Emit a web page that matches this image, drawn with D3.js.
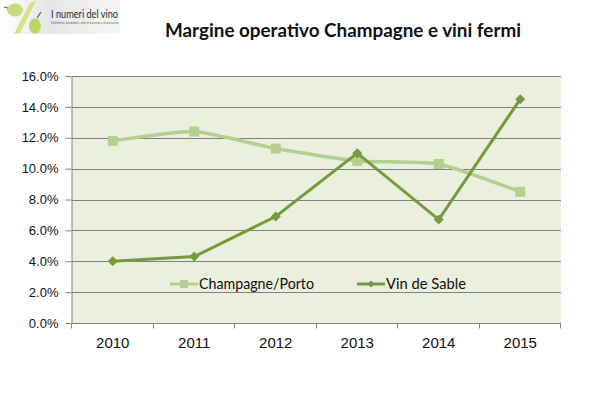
<!DOCTYPE html>
<html>
<head>
<meta charset="utf-8">
<script src="https://cdn.jsdelivr.net/npm/d3@7"></script>
<style>
	body { margin: 0; background: #fff; }
	svg { display: block; }
</style>
</head>
<body>
<div id="chart"></div>
<script>
// chart data
var years = ["2010", "2011", "2012", "2013", "2014", "2015"];
var champagne = [11.8, 12.4, 11.3, 10.5, 10.3, 8.5];
var vinDeSable = [4.0, 4.3, 6.9, 11.0, 6.7, 14.5];
var seriesNames = ["Champagne/Porto", "Vin de Sable"];
var yTicks = [0, 2, 4, 6, 8, 10, 12, 14, 16];

var width = 599, height = 395;
var plot = {left: 72, right: 561, top: 76, bottom: 323};

var colLight = "#b5ce92";
var colDark = "#779a3e";
var narrowFont = "Lato, 'Open Sans', sans-serif";
var axisFont = "'Liberation Sans', Arial, sans-serif";

var svg = d3.select("#chart").append("svg")
	.attr("width", width)
	.attr("height", height);

////////////////////////////////////////
// logo in the top left corner

var defs = svg.append("defs");
var grad = defs.append("linearGradient").attr("id", "logoBg");
grad.append("stop").attr("offset", "0%").attr("stop-color", "#ffffff");
grad.append("stop").attr("offset", "40%").attr("stop-color", "#e6e6e6");
grad.append("stop").attr("offset", "100%").attr("stop-color", "#f6f6f6");

svg.append("rect")
	.attr("x", 0).attr("y", 0)
	.attr("width", 120).attr("height", 34)
	.attr("fill", "url(#logoBg)");

svg.append("path")
	.attr("d", "M30,3 L36,1 L20,33 L14,34 Z")
	.attr("fill", "#d6e383");
svg.append("ellipse")
	.attr("cx", 15).attr("cy", 10).attr("rx", 8).attr("ry", 6.5)
	.attr("fill", "#c6da7e");
svg.append("ellipse")
	.attr("cx", 35).attr("cy", 26).attr("rx", 6).attr("ry", 7.5)
	.attr("fill", "#bcd46a");
svg.append("path")
	.attr("d", "M37,18 L41,12")
	.attr("stroke", "#6b5a3a").attr("stroke-width", 1.2);
svg.append("path")
	.attr("d", "M8,8 L4,7")
	.attr("stroke", "#6b5a3a").attr("stroke-width", 1.2);

svg.append("text")
	.attr("x", 51).attr("y", 18)
	.attr("font-family", narrowFont)
	.attr("font-size", 12)
	.attr("textLength", 67)
	.attr("lengthAdjust", "spacingAndGlyphs")
	.attr("fill", "#2a2a2a")
	.text("I numeri del vino");
svg.append("text")
	.attr("x", 51).attr("y", 24)
	.attr("font-family", narrowFont)
	.attr("font-size", 3.5)
	.attr("textLength", 68)
	.attr("lengthAdjust", "spacingAndGlyphs")
	.attr("fill", "#666")
	.text("Statistiche produttive, dati di mercato e di consumo,");

////////////////////////////////////////
// title

svg.append("text")
	.attr("x", 165).attr("y", 37)
	.attr("font-family", narrowFont)
	.attr("font-weight", "bold")
	.attr("font-size", 19)
	.attr("textLength", 356)
	.attr("lengthAdjust", "spacingAndGlyphs")
	.attr("fill", "#111")
	.text("Margine operativo  Champagne e vini fermi");

////////////////////////////////////////
// scales

var x = d3.scaleBand()
	.domain(years)
	.range([plot.left, plot.right]);

var y = d3.scaleLinear()
	.domain([0, 16])
	.range([plot.bottom, plot.top]);

svg.append("rect")
	.attr("x", plot.left).attr("y", plot.top)
	.attr("width", plot.right - plot.left)
	.attr("height", plot.bottom - plot.top)
	.attr("fill", "#ebf0de");

// gridlines
svg.append("g")
	.selectAll("line")
	.data(yTicks.filter(function(d) { return d > 0; }))
	.enter().append("line")
	.attr("x1", plot.left).attr("x2", plot.right)
	.attr("y1", function(d) { return Math.round(y(d)) + 0.5; })
	.attr("y2", function(d) { return Math.round(y(d)) + 0.5; })
	.attr("stroke", "#808080")
	.attr("stroke-width", 1);

// y axis
var yAxis = svg.append("g")
	.attr("transform", "translate(" + (plot.left - 0.5) + ",0)")
	.call(d3.axisLeft(y).tickValues(yTicks).tickSize(6).tickSizeOuter(0)
		.tickFormat(function(d) { return d.toFixed(1) + "%"; }));
yAxis.select(".domain").attr("stroke", "#808080");
yAxis.selectAll(".tick line").attr("stroke", "#808080");
yAxis.selectAll(".tick text")
	.attr("x", -13)
	.attr("font-family", axisFont)
	.attr("font-size", 13)
	.attr("fill", "#111");

// x axis, ticks on the category boundaries
var xAxis = svg.append("g")
	.attr("transform", "translate(0," + (plot.bottom + 0.5) + ")");
xAxis.append("line")
	.attr("x1", plot.left).attr("x2", plot.right)
	.attr("stroke", "#808080");
xAxis.selectAll(".bound")
	.data(years.concat(["end"]))
	.enter().append("line")
	.attr("class", "bound")
	.attr("x1", function(d, i) { return Math.round(plot.left + i * x.bandwidth()) - 0.5; })
	.attr("x2", function(d, i) { return Math.round(plot.left + i * x.bandwidth()) - 0.5; })
	.attr("y1", 0).attr("y2", 5)
	.attr("stroke", "#808080");
xAxis.selectAll(".lbl")
	.data(years)
	.enter().append("text")
	.attr("class", "lbl")
	.attr("x", function(d) { return x(d) + x.bandwidth() / 2; })
	.attr("y", 24)
	.attr("text-anchor", "middle")
	.attr("font-family", axisFont)
	.attr("font-size", 15)
	.attr("fill", "#111")
	.text(function(d) { return d; });

////////////////////////////////////////
// series

function cx(d, i) { return x(years[i]) + x.bandwidth() / 2; }

var lineSmooth = d3.line()
	.x(cx)
	.y(function(d) { return y(d); })
	.curve(d3.curveCardinal.tension(0.5));

var lineStraight = d3.line()
	.x(cx)
	.y(function(d) { return y(d); });

svg.append("path")
	.datum(champagne)
	.attr("d", lineSmooth)
	.attr("fill", "none")
	.attr("stroke", colLight)
	.attr("stroke-width", 3.5);

svg.append("g")
	.selectAll("rect")
	.data(champagne)
	.enter().append("rect")
	.attr("x", function(d, i) { return cx(d, i) - 5; })
	.attr("y", function(d) { return y(d) - 5; })
	.attr("width", 10).attr("height", 10)
	.attr("fill", colLight);

svg.append("path")
	.datum(vinDeSable)
	.attr("d", lineStraight)
	.attr("fill", "none")
	.attr("stroke", colDark)
	.attr("stroke-width", 3);

function diamondPath(r) {
	return "M0," + (-r) + "L" + r + ",0L0," + r + "L" + (-r) + ",0Z";
}

svg.append("g")
	.selectAll("path")
	.data(vinDeSable)
	.enter().append("path")
	.attr("transform", function(d, i) { return "translate(" + cx(d, i) + "," + y(d) + ")"; })
	.attr("d", diamondPath(5))
	.attr("fill", colDark);

////////////////////////////////////////
// legend

var legend = [
	{name: seriesNames[0], color: colLight, x: 170, mark: "square", w: 115},
	{name: seriesNames[1], color: colDark, x: 357, mark: "diamond", w: 80}
];
var ly = 284;

legend.forEach(function(l) {
	svg.append("line")
		.attr("x1", l.x).attr("x2", l.x + 28)
		.attr("y1", ly).attr("y2", ly)
		.attr("stroke", l.color)
		.attr("stroke-width", 3);
	if (l.mark === "square") {
		svg.append("rect")
			.attr("x", l.x + 10).attr("y", ly - 4)
			.attr("width", 8).attr("height", 8)
			.attr("fill", l.color);
	} else {
		svg.append("path")
			.attr("transform", "translate(" + (l.x + 14) + "," + ly + ")")
			.attr("d", diamondPath(3.5))
			.attr("fill", l.color);
	}
	svg.append("text")
		.attr("x", l.x + 29).attr("y", ly + 5)
		.attr("font-family", narrowFont)
		.attr("font-size", 15)
		.attr("textLength", l.w)
		.attr("lengthAdjust", "spacingAndGlyphs")
		.attr("fill", "#111")
		.text(l.name);
});
</script>
</body>
</html>
